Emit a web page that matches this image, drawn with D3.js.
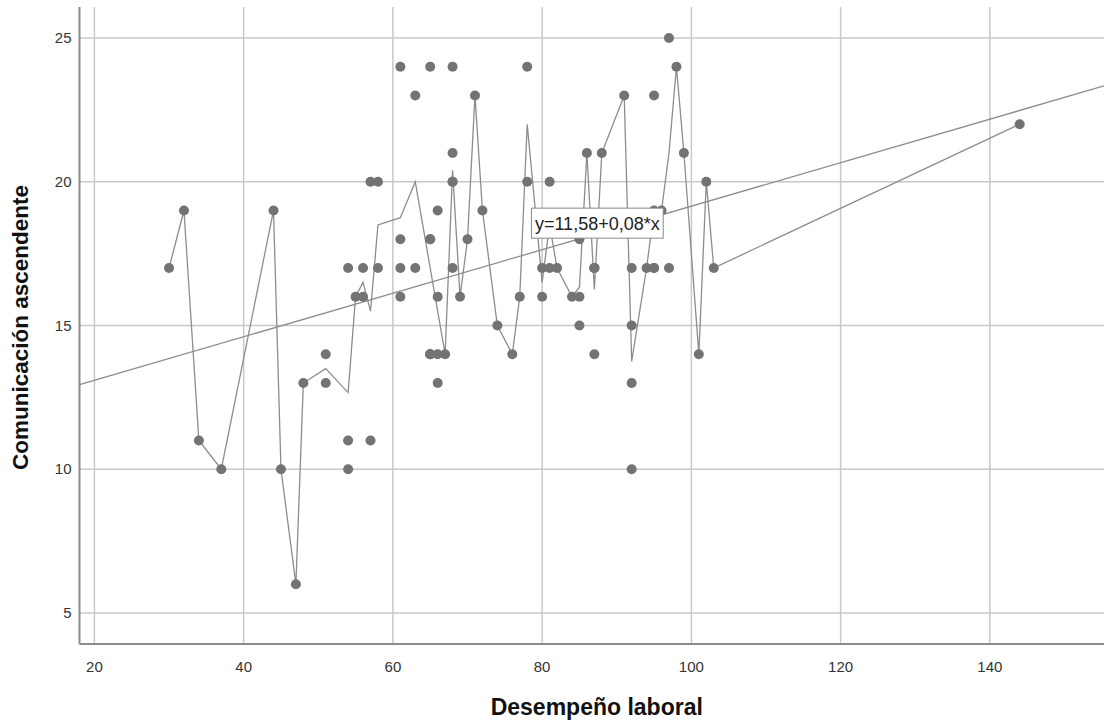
<!DOCTYPE html>
<meta charset="utf-8">
<head>
<style>
  body { margin: 0; background: #fff; }
  text { font-family: "Liberation Sans", Arial, sans-serif; }
</style>
</head>
<body>

<script src="https://d3js.org/d3.v7.min.js"></script>

<div id="chart"></div>

<script>

// one entry per respondent: x = Desempeño laboral, y = Comunicación ascendente
var desempeno = [30, 32, 34, 37, 44, 45, 47, 48, 51, 51, 54, 54, 54, 55, 56, 56, 57, 57, 58, 58,
  61, 61, 61, 61, 63, 63, 65, 65, 65, 65, 65, 65, 66, 66, 66, 66, 67, 68, 68, 68, 68, 68,
  69, 70, 71, 72, 74, 76, 77, 78, 78, 80, 80, 81, 81, 82, 84, 85, 85, 85, 86, 87, 87, 87, 87,
  88, 91, 92, 92, 92, 92, 94, 95, 95, 95, 95, 96, 97, 97, 98, 99, 101, 102, 103, 144];
var comunicacion = [17, 19, 11, 10, 19, 10, 6, 13, 14, 13, 17, 11, 10, 16, 17, 16, 20, 11, 20, 17,
  24, 18, 17, 16, 23, 17, 24, 18, 18, 14, 14, 14, 19, 16, 14, 13, 14, 24, 21, 20, 20, 17,
  16, 18, 23, 19, 15, 14, 16, 24, 20, 17, 16, 20, 17, 17, 16, 18, 16, 15, 21, 17, 17, 17, 14,
  21, 23, 17, 15, 13, 10, 17, 23, 19, 17, 17, 19, 25, 17, 24, 21, 14, 20, 17, 22];

var xTicks = [20, 40, 60, 80, 100, 120, 140];
var yTicks = [5, 10, 15, 20, 25];

// linear fit shown on the chart
var fitIntercept = 11.58;
var fitSlope = 0.0757;
var fitLabel = "y=11,58+0,08*x";
var fitLabelAt = [78.5, 19.1];

var xTitle = "Desempeño laboral";
var yTitle = "Comunicación ascendente";

var width = 1104, height = 720;
var plot = {left: 79.5, top: 7, right: 1104, bottom: 644};

var svg = d3.select("#chart").append("svg")
  .attr("width", width)
  .attr("height", height)
  .style("display", "block");

var x = d3.scaleLinear().domain([18, 155.3]).range([plot.left, plot.right]);
var y = d3.scaleLinear().domain([3.92, 26.08]).range([plot.bottom, plot.top]);

var points = desempeno.map(function(d, i) { return {x: d, y: comunicacion[i]}; });

// grid
svg.append("g").selectAll("line")
  .data(xTicks)
  .enter().append("line")
  .attr("x1", function(d) { return x(d); })
  .attr("x2", function(d) { return x(d); })
  .attr("y1", plot.top)
  .attr("y2", plot.bottom)
  .attr("stroke", "#c8c8c8")
  .attr("stroke-width", 1.5);

svg.append("g").selectAll("line")
  .data(yTicks)
  .enter().append("line")
  .attr("x1", plot.left)
  .attr("x2", plot.right)
  .attr("y1", function(d) { return y(d); })
  .attr("y2", function(d) { return y(d); })
  .attr("stroke", "#c8c8c8")
  .attr("stroke-width", 1.5);

// axis lines
svg.append("line")
  .attr("x1", plot.left).attr("x2", plot.left)
  .attr("y1", plot.top).attr("y2", plot.bottom)
  .attr("stroke", "#8c8c8c").attr("stroke-width", 2);
svg.append("line")
  .attr("x1", plot.left).attr("x2", plot.right)
  .attr("y1", plot.bottom).attr("y2", plot.bottom)
  .attr("stroke", "#8c8c8c").attr("stroke-width", 2);

// tick labels
svg.append("g").selectAll("text")
  .data(xTicks)
  .enter().append("text")
  .attr("x", function(d) { return x(d); })
  .attr("y", plot.bottom + 28)
  .attr("text-anchor", "middle")
  .attr("font-size", 15)
  .attr("fill", "#333")
  .text(function(d) { return d; });

svg.append("g").selectAll("text")
  .data(yTicks)
  .enter().append("text")
  .attr("x", plot.left - 8)
  .attr("y", function(d) { return y(d); })
  .attr("dy", "0.35em")
  .attr("text-anchor", "end")
  .attr("font-size", 15)
  .attr("fill", "#333")
  .text(function(d) { return d; });

// axis titles
svg.append("text")
  .attr("x", (plot.left + plot.right) / 2 + 5)
  .attr("y", 715)
  .attr("text-anchor", "middle")
  .attr("font-size", 23)
  .attr("font-weight", "bold")
  .attr("fill", "#111")
  .text(xTitle);

svg.append("text")
  .attr("transform", "translate(28," + ((plot.top + plot.bottom) / 2 + 2) + ") rotate(-90)")
  .attr("text-anchor", "middle")
  .attr("font-size", 22.5)
  .attr("font-weight", "bold")
  .attr("fill", "#111")
  .text(yTitle);

svg.append("clipPath").attr("id", "plotclip")
  .append("rect")
  .attr("x", plot.left).attr("y", plot.top)
  .attr("width", plot.right - plot.left).attr("height", plot.bottom - plot.top);

var g = svg.append("g").attr("clip-path", "url(#plotclip)");

// regression line across the whole x range
var xd = x.domain();
g.append("line")
  .attr("x1", x(xd[0]))
  .attr("y1", y(fitIntercept + fitSlope * xd[0]))
  .attr("x2", x(xd[1]))
  .attr("y2", y(fitIntercept + fitSlope * xd[1]))
  .attr("stroke", "#8c8c8c")
  .attr("stroke-width", 1.3);

// line through the mean of y at each x
var means = Array.from(d3.rollup(points, function(v) { return d3.mean(v, function(d) { return d.y; }); }, function(d) { return d.x; }))
  .sort(function(a, b) { return a[0] - b[0]; });

g.append("path")
  .datum(means)
  .attr("fill", "none")
  .attr("stroke", "#8c8c8c")
  .attr("stroke-width", 1.3)
  .attr("d", d3.line()
    .x(function(d) { return x(d[0]); })
    .y(function(d) { return y(d[1]); }));

g.selectAll("circle")
  .data(points)
  .enter().append("circle")
  .attr("cx", function(d) { return x(d.x); })
  .attr("cy", function(d) { return y(d.y); })
  .attr("r", 5)
  .attr("fill", "#737373");

// fit equation label
var lab = svg.append("g")
  .attr("transform", "translate(" + x(fitLabelAt[0]) + "," + y(fitLabelAt[1]) + ")");
var labText = lab.append("text")
  .attr("x", 4)
  .attr("y", 22)
  .attr("font-size", 18)
  .attr("fill", "#222")
  .text(fitLabel);
var bb = labText.node().getBBox();
lab.insert("rect", "text")
  .attr("x", 0.5)
  .attr("y", 0.5)
  .attr("width", bb.width + 7)
  .attr("height", 30)
  .attr("fill", "#fff")
  .attr("stroke", "#888")
  .attr("stroke-width", 1);

</script>
</body>
